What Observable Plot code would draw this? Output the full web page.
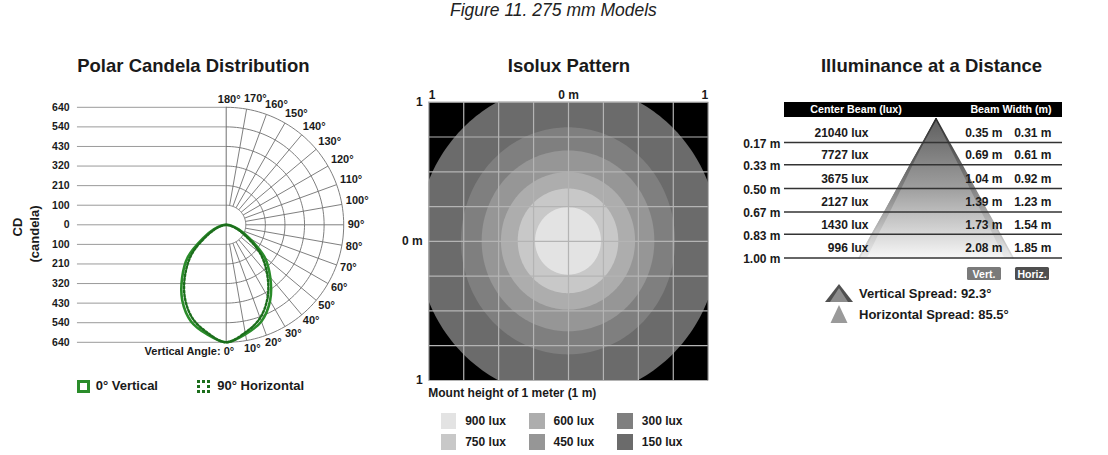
<!DOCTYPE html>
<html><head><meta charset="utf-8">
<script src="https://cdn.jsdelivr.net/npm/d3@7"></script>
<script src="https://cdn.jsdelivr.net/npm/@observablehq/plot@0.6"></script>
<style>
body{margin:0;background:#fff;}
#root{position:relative;width:1108px;height:455px;overflow:hidden;font-family:"Liberation Sans",Arial,Helvetica,sans-serif;color:#1a1a1a;}
.abs{position:absolute;white-space:nowrap;line-height:1;}
</style></head><body><div id="root"></div>
<script>
// ---------- DATA ----------
// Polar candela distribution (angle from nadir, candela)
const polarAngles = [0, 10, 20, 30, 40, 50, 60, 70, 80, 90];
const cdVertical = [640, 605, 560, 478, 373, 272, 145, 72, 25, 0];
const cdHorizontal = [640, 596, 540, 452, 346, 242, 124, 58, 18, 0];
const cdMax = 640;
const cdTickLabels = ["0", "100", "210", "320", "430", "540", "640"];
const angleTicks = [0, 10, 20, 30, 40, 50, 60, 70, 80, 90, 100, 110, 120, 130, 140, 150, 160, 170, 180];

// Isolux pattern (lux level, ellipse radii in metres)
const isoluxLevels = [150, 300, 450, 600, 750, 900];
const isoluxColors = ["#6b6b6b", "#7f7f7f", "#969696", "#adadad", "#c8c8c8", "#e3e3e3"];
const isoluxRadiusX = [1.08, 0.766, 0.618, 0.48, 0.36, 0.236];
const isoluxRadiusY = [1.13, 0.816, 0.65, 0.494, 0.376, 0.243];
const isoluxGridTicks = [-1, -0.75, -0.5, -0.25, 0, 0.25, 0.5, 0.75, 1];
const isoluxAxisTicks = [-1, 0, 1];
const isoluxAxisLabels = ["1", "0 m", "1"];

// Illuminance at a distance
const distances = [0.17, 0.33, 0.50, 0.67, 0.83, 1.00];
const distanceLabels = ["0.17 m", "0.33 m", "0.50 m", "0.67 m", "0.83 m", "1.00 m"];
const centerBeamLux = [21040, 7727, 3675, 2127, 1430, 996];
const beamWidthVert = [0.35, 0.69, 1.04, 1.39, 1.73, 2.08];
const beamWidthHoriz = [0.31, 0.61, 0.92, 1.23, 1.54, 1.85];
const verticalSpread = 92.3;
const horizontalSpread = 85.5;

// ---------- HELPERS ----------
const FONT = '"Liberation Sans", Arial, Helvetica, sans-serif';
const INK = "#1a1a1a";
const GREEN = "#2a8c2a";
const GREEN_DOT = "#1c6e1c";
const root = document.getElementById("root");

function addText(str, x, baseline, {size = 12, weight = "bold", anchor = "start", italic = false, color = INK} = {}) {
  const d = document.createElement("div");
  d.className = "abs";
  d.textContent = str;
  d.style.fontSize = size + "px";
  d.style.fontWeight = weight;
  d.style.fontStyle = italic ? "italic" : "normal";
  d.style.color = color;
  d.style.left = x + "px";
  d.style.top = (baseline - 0.8465 * size) + "px";
  d.style.transform = anchor === "middle" ? "translateX(-50%)" : anchor === "end" ? "translateX(-100%)" : "none";
  root.appendChild(d);
  return d;
}
function addBox(left, top, w, h, css) {
  const d = document.createElement("div");
  d.style.position = "absolute";
  d.style.left = left + "px"; d.style.top = top + "px";
  d.style.width = w + "px"; d.style.height = h + "px";
  d.style.boxSizing = "border-box";
  Object.assign(d.style, css || {});
  root.appendChild(d);
  return d;
}
function mount(svg, left, top) {
  svg.style.position = "absolute";
  svg.style.left = left + "px";
  svg.style.top = top + "px";
  svg.style.overflow = "visible";
  root.appendChild(svg);
}
const rad = a => a * Math.PI / 180;

// ---------- TITLES ----------
addText("Figure 11. 275 mm Models", 553.4, 17.3, {size: 17.5, weight: "normal", italic: true, anchor: "middle", color: "#222"});
addText("Polar Candela Distribution", 193.4, 72.7, {size: 18.5, anchor: "middle"});
addText("Isolux Pattern", 569, 72.7, {size: 18.5, anchor: "middle"});
addText("Illuminance at a Distance", 931.5, 72.7, {size: 18.5, anchor: "middle"});

// ---------- PANEL 1: POLAR ----------
{
  const W = 380, H = 285, top = 85;
  const R = 117.5, k = R / cdMax;
  const cx = 225.7, cy = 224.3 - top;
  const ringLevels = d3.range(1, 7).map(i => i * cdMax / 6);
  const arcPoints = ringLevels.flatMap(r => d3.range(0, 181, 2).map(a => ({ring: r, x: r * Math.sin(rad(a)), y: -r * Math.cos(rad(a))})));
  const spokeAngles = angleTicks.filter(a => a > 0 && a < 180);
  const r1 = ringLevels[0];
  const tickRows = [];
  cdTickLabels.forEach((lab, i) => {
    const pos = i * cdMax / 6;
    tickRows.push({y: pos, label: lab});
    if (i > 0) tickRows.push({y: -pos, label: lab});
  });
  function curvePoints(values) {
    const pts = [];
    for (let i = polarAngles.length - 1; i > 0; i--) pts.push({a: -polarAngles[i], cd: values[i]});
    for (let i = 0; i < polarAngles.length; i++) pts.push({a: polarAngles[i], cd: values[i]});
    return pts.map(p => ({x: p.cd * Math.sin(rad(p.a)), y: -p.cd * Math.cos(rad(p.a))}));
  }
  const labelR = cdMax * 1.068;
  const lblX = a => labelR * Math.sin(rad(a));
  const lblY = a => -labelR * Math.cos(rad(a));
  const leftEdge = -cdMax * 1.266;
  const txt = {fontSize: 11, fontWeight: "bold", fill: INK, fontFamily: FONT};

  const svg = Plot.plot({
    width: W, height: H, margin: 0,
    style: {fontFamily: FONT, background: "transparent", overflow: "visible"},
    x: {domain: [-cx / k, (W - cx) / k], axis: null},
    y: {domain: [-(H - cy) / k, cy / k], axis: null},
    marks: [
      Plot.ruleY(tickRows, {y: "y", x1: leftEdge, x2: 0, stroke: "#9a9a9a", strokeWidth: 1}),
      Plot.line(arcPoints, {x: "x", y: "y", z: "ring", stroke: "#707070", strokeWidth: 0.9}),
      Plot.link(spokeAngles, {
        x1: a => r1 * Math.sin(rad(a)), y1: a => -r1 * Math.cos(rad(a)),
        x2: a => cdMax * Math.sin(rad(a)), y2: a => -cdMax * Math.cos(rad(a)),
        stroke: "#707070", strokeWidth: 0.9
      }),
      Plot.ruleX([0], {y1: -cdMax, y2: cdMax, stroke: "#707070", strokeWidth: 1}),
      Plot.line(curvePoints(cdVertical), {x: "x", y: "y", stroke: GREEN, strokeWidth: 2.6, curve: "catmull-rom"}),
      Plot.line(curvePoints(cdHorizontal), {x: "x", y: "y", stroke: GREEN_DOT, strokeWidth: 2.4, strokeDasharray: "2,2", curve: "catmull-rom"}),
      Plot.text(tickRows, {y: "y", x: -cdMax * 1.333, text: "label", textAnchor: "end", ...txt, fontSize: 10.5}),
      Plot.text(angleTicks.filter(a => a === 0), {x: lblX, y: lblY, text: () => "Vertical Angle: 0°", textAnchor: "end", dx: 8, dy: 1, ...txt}),
      Plot.text(angleTicks.filter(a => a > 0 && a <= 90), {x: lblX, y: lblY, text: a => a + "°", textAnchor: "start", dx: -4, ...txt}),
      Plot.text(angleTicks.filter(a => a > 90 && a < 180), {x: lblX, y: lblY, text: a => a + "°", textAnchor: "start", dx: -4, dy: -2.5, ...txt}),
      Plot.text(angleTicks.filter(a => a === 180), {x: lblX, y: lblY, text: a => a + "°", textAnchor: "middle", dx: 3, ...txt})
    ]
  });
  mount(svg, 0, top);

  // axis title (rotated)
  for (const [s, x, y] of [["CD", 17, 226.7], ["(candela)", 34, 233.5]]) {
    const d = document.createElement("div");
    d.className = "abs";
    d.textContent = s;
    d.style.fontSize = "13px"; d.style.fontWeight = "bold";
    d.style.left = x + "px"; d.style.top = y + "px";
    d.style.transform = "translate(-50%,-50%) rotate(-90deg)";
    root.appendChild(d);
  }
  // legend
  addBox(77.3, 380, 12.5, 12.5, {border: "3px solid " + GREEN});
  addText("0° Vertical", 95.7, 390.5, {size: 13});
  addBox(197.3, 380, 12.5, 12.5, {border: "3px dotted " + GREEN_DOT});
  addText("90° Horizontal", 217.3, 390.5, {size: 13});
}

// ---------- PANEL 2: ISOLUX ----------
{
  const left = 395, top = 80, W = 320, H = 305;
  const shapes = isoluxLevels.map((lvl, i) => d3.range(0, 181, 1.5).map(t => ({
    x: isoluxRadiusX[i] * Math.cos(rad(t)),
    y1: -isoluxRadiusY[i] * Math.sin(rad(t)),
    y2: isoluxRadiusY[i] * Math.sin(rad(t))
  })));
  const txt = {fontSize: 12, fontWeight: "bold", fill: INK, fontFamily: FONT};
  const lab = d => isoluxAxisLabels[isoluxAxisTicks.indexOf(d)];
  const svg = Plot.plot({
    width: W, height: H,
    marginLeft: 428.3 - left, marginRight: W - (707.7 - left),
    marginTop: 101.7 - top, marginBottom: H - (380 - top),
    style: {fontFamily: FONT, background: "transparent", overflow: "visible"},
    x: {domain: [-1, 1], axis: null},
    y: {domain: [-1, 1], axis: null},
    marks: [
      Plot.frame({fill: "#000", stroke: "none"}),
      ...shapes.map((s, i) => Plot.areaY(s, {x: "x", y1: "y1", y2: "y2", fill: isoluxColors[i], clip: true})),
      Plot.ruleX(isoluxGridTicks, {stroke: "#b4b4b4", strokeWidth: 1.2}),
      Plot.ruleY(isoluxGridTicks, {stroke: "#b4b4b4", strokeWidth: 1.2}),
      Plot.text(isoluxAxisTicks.filter(v => v < 0), {x: d => d, text: lab, frameAnchor: "top", dy: -11.5, textAnchor: "start", ...txt}),
      Plot.text(isoluxAxisTicks.filter(v => v === 0), {x: d => d, text: lab, frameAnchor: "top", dy: -11.5, textAnchor: "middle", ...txt}),
      Plot.text(isoluxAxisTicks.filter(v => v > 0), {x: d => d, text: lab, frameAnchor: "top", dy: -11.5, textAnchor: "end", ...txt}),
      Plot.text(isoluxAxisTicks, {y: d => d, text: lab, frameAnchor: "left", dx: -6, textAnchor: "end", ...txt})
    ]
  });
  mount(svg, left, top);

  addText("Mount height of 1 meter (1 m)", 428.3, 397.5, {size: 12});
  const legendOrder = [900, 750, 600, 450, 300, 150];
  const colX = [440.7, 529, 617.3];
  const rowY = [413.3, 434];
  legendOrder.forEach((lvl, j) => {
    const c = Math.floor(j / 2), r = j % 2;
    const idx = isoluxLevels.indexOf(lvl);
    addBox(colX[c], rowY[r], 15.5, 15.5, {background: isoluxColors[idx]});
    addText(lvl + " lux", colX[c] + 24.5, rowY[r] + 12, {size: 12});
  });
}

// ---------- PANEL 3: ILLUMINANCE ----------
{
  const left = 730, top = 95, W = 350, H = 170;
  const frameL = 784, frameR = 1062, apexY = 118.3, baseY = 257.5, cxp = 935.6, pxPerM = 74;
  const triV = [{d: 0, w: 0}, ...distances.map((d, i) => ({d, w: beamWidthVert[i] / 2}))];
  const triH = [{d: 0, w: 0}, ...distances.map((d, i) => ({d, w: beamWidthHoriz[i] / 2}))];
  const rows = distances.map((d, i) => ({d, label: distanceLabels[i], lux: centerBeamLux[i] + " lux", v: beamWidthVert[i].toFixed(2) + " m", h: beamWidthHoriz[i].toFixed(2) + " m"}));
  const txt = {fontSize: 12, fontWeight: "bold", fill: INK, fontFamily: FONT};
  const svg = Plot.plot({
    width: W, height: H,
    marginLeft: frameL - left, marginRight: W - (frameR - left),
    marginTop: apexY - top, marginBottom: H - (baseY - top),
    style: {fontFamily: FONT, background: "transparent", overflow: "visible"},
    x: {domain: [-(cxp - frameL) / pxPerM, (frameR - cxp) / pxPerM], axis: null},
    y: {domain: [0, 1], reverse: true, axis: null},
    marks: [
      Plot.areaX(triV, {y: "d", x1: d => -d.w, x2: d => d.w, fill: "url(#gradV)"}),
      Plot.areaX(triH, {y: "d", x1: d => -d.w, x2: d => d.w, fill: "url(#gradH)"}),
      Plot.line(triV, {x: d => -d.w, y: "d", stroke: "url(#gradEdge)", strokeWidth: 1.6}),
      Plot.line(triV, {x: d => d.w, y: "d", stroke: "url(#gradEdge)", strokeWidth: 1.6}),
      Plot.ruleY(distances, {stroke: "#333", strokeWidth: 1.5}),
      Plot.text(rows, {y: "d", text: "label", frameAnchor: "left", textAnchor: "end", dx: -4, dy: 1.5, ...txt}),
      Plot.text(rows, {y: "d", text: "lux", frameAnchor: "left", textAnchor: "end", dx: 868 - frameL, dy: -9.5, ...txt}),
      Plot.text(rows, {y: "d", text: "v", frameAnchor: "right", textAnchor: "end", dx: 1002 - frameR, dy: -9.5, ...txt}),
      Plot.text(rows, {y: "d", text: "h", frameAnchor: "right", textAnchor: "end", dx: 1051 - frameR, dy: -9.5, ...txt})
    ]
  });
  const defs = d3.select(svg).insert("defs", ":first-child");
  const grad = (id, stops) => {
    const g = defs.append("linearGradient").attr("id", id).attr("x1", 0).attr("y1", 0).attr("x2", 0).attr("y2", 1);
    stops.forEach(([o, c]) => g.append("stop").attr("offset", o).attr("stop-color", c));
  };
  grad("gradV", [["0%", "#3a3a3a"], ["50%", "#808080"], ["100%", "#ececec"]]);
  grad("gradH", [["0%", "#5e5e5e"], ["50%", "#9e9e9e"], ["100%", "#f6f6f6"]]);
  grad("gradEdge", [["0%", "#2a2a2a"], ["100%", "#dcdcdc"]]);
  mount(svg, left, top);

  // header bar
  addBox(784, 101.7, 278, 15.5, {background: "#000"});
  addText("Center Beam (lux)", 856, 113.3, {size: 10.7, color: "#fff", anchor: "middle"});
  addText("Beam Width (m)", 1011, 113.3, {size: 10.7, color: "#fff", anchor: "middle"});

  // Vert./Horiz. tags
  addBox(967, 267, 34, 13, {background: "#7a7a7a", borderRadius: "1.5px"});
  addBox(1015, 267, 34, 13, {background: "#4f4f4f", borderRadius: "1.5px"});
  addText("Vert.", 984, 277.6, {size: 10.5, color: "#fff", anchor: "middle"});
  addText("Horiz.", 1032, 277.6, {size: 10.5, color: "#fff", anchor: "middle"});

  // spread legend icons
  const icon = d3.create("svg").attr("width", 60).attr("height", 50);
  icon.append("polygon").attr("points", "0,18 28,18 14,0").attr("fill", "#505050");
  icon.append("polygon").attr("points", "5,18 23,18 14,4").attr("fill", "#8c8c8c");
  icon.append("polygon").attr("points", "5.5,39 22.5,39 14,21").attr("fill", "#9a9a9a");
  const ic = icon.node();
  ic.style.position = "absolute"; ic.style.left = "825px"; ic.style.top = "284px";
  root.appendChild(ic);
  addText("Vertical Spread: " + verticalSpread + "°", 859, 298.5, {size: 13});
  addText("Horizontal Spread: " + horizontalSpread + "°", 859, 319.5, {size: 13});
}
</script></body></html>
